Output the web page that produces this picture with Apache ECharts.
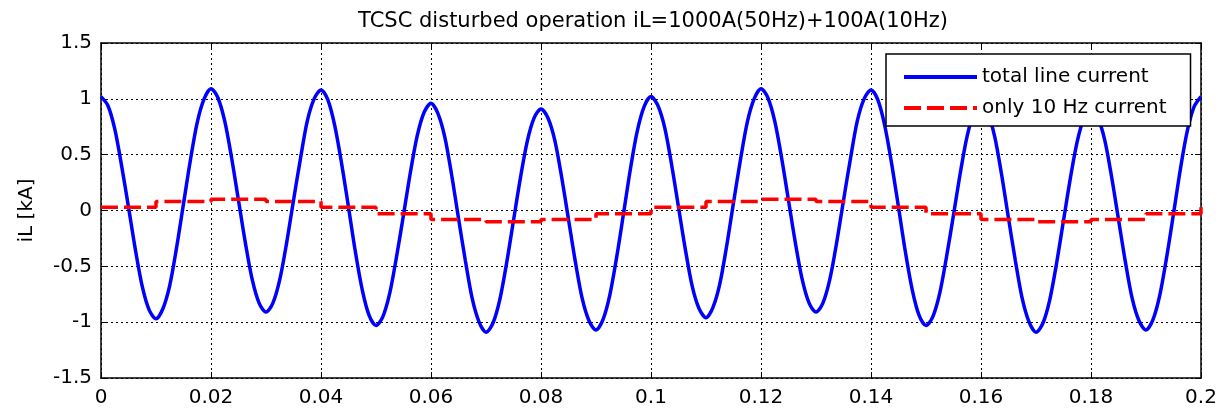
<!DOCTYPE html>
<html><head><meta charset="utf-8">
<script src="https://cdn.jsdelivr.net/npm/echarts@6/dist/echarts.min.js"></script>
<style>html,body{margin:0;padding:0;background:#fff}#c{width:1221px;height:411px}</style>
</head><body><div id="c"></div>
<script>
const titleText = 'TCSC disturbed operation iL=1000A(50Hz)+100A(10Hz)';
const yAxisName = 'iL [kA]';
const seriesNames = ['total line current', 'only 10 Hz current'];
const xRange = [0, 0.2];
const xInterval = 0.02;
const yRange = [-1.5, 1.5];
const yInterval = 0.5;

// total line current [kA], sampled every 1.25 ms from t = 0 to t = 0.2 s
const totalStep = 0.00125;
const totalCurrent = [
  1.02, 0.94, 0.73, 0.40, 0.03, -0.35, -0.68, -0.89,
  -0.97, -0.88, -0.67, -0.33, 0.06, 0.45, 0.79, 1.00,
  1.09, 1.01, 0.80, 0.47, 0.09, -0.29, -0.62, -0.83,
  -0.91, -0.83, -0.62, -0.29, 0.09, 0.46, 0.80, 1.00,
  1.08, 0.99, 0.76, 0.42, 0.03, -0.37, -0.71, -0.94,
  -1.03, -0.95, -0.74, -0.41, -0.04, 0.34, 0.67, 0.88,
  0.96, 0.87, 0.66, 0.32, -0.07, -0.45, -0.79, -1.00,
  -1.09, -1.01, -0.80, -0.47, -0.09, 0.29, 0.62, 0.83,
  0.91, 0.83, 0.63, 0.30, -0.08, -0.46, -0.79, -0.99,
  -1.07, -0.98, -0.76, -0.42, -0.03, 0.37, 0.71, 0.93,
  1.02, 0.94, 0.74, 0.41, 0.03, -0.35, -0.68, -0.88,
  -0.96, -0.87, -0.66, -0.32, 0.07, 0.45, 0.79, 1.00,
  1.09, 1.01, 0.80, 0.47, 0.09, -0.29, -0.62, -0.83,
  -0.91, -0.83, -0.62, -0.29, 0.09, 0.46, 0.80, 1.00,
  1.08, 0.99, 0.76, 0.42, 0.03, -0.37, -0.71, -0.94,
  -1.03, -0.95, -0.74, -0.41, -0.04, 0.34, 0.67, 0.88,
  0.96, 0.87, 0.66, 0.32, -0.07, -0.45, -0.79, -1.00,
  -1.09, -1.01, -0.80, -0.47, -0.09, 0.29, 0.62, 0.83,
  0.91, 0.83, 0.63, 0.30, -0.08, -0.46, -0.79, -0.99,
  -1.07, -0.98, -0.76, -0.42, -0.03, 0.37, 0.71, 0.93,
  1.02
];

// 10 Hz current [kA], held value starting at each time
const tenHzTimes = [0, 0.01, 0.02, 0.03, 0.04, 0.05, 0.06, 0.07, 0.08, 0.09, 0.1,
  0.11, 0.12, 0.13, 0.14, 0.15, 0.16, 0.17, 0.18, 0.19, 0.2];
const tenHzCurrent = [0.03, 0.08, 0.10, 0.08, 0.03, -0.03, -0.08, -0.10, -0.08, -0.03, 0.03,
  0.08, 0.10, 0.08, 0.03, -0.03, -0.08, -0.10, -0.08, -0.03, 0.03];

const FONT = 'DejaVu Sans';
const chart = echarts.init(document.getElementById('c'), null, {renderer: 'canvas'});

const gridLine = {show: true, lineStyle: {color: '#000', width: 1, type: [2, 3]}};
const axisLineStyle = {onZero: false, lineStyle: {color: '#000', width: 1.5}};
const tickStyle = {inside: true, length: 6, lineStyle: {color: '#000', width: 1}};

chart.setOption({
  animation: false,
  backgroundColor: '#fff',
  title: {
    text: titleText, left: 648, textAlign: 'center', top: 6,
    textStyle: {fontFamily: FONT, fontSize: 21, fontWeight: 'normal', color: '#000'}
  },
  grid: {left: 101, right: 20, top: 43, bottom: 33, containLabel: false},
  legend: {
    orient: 'vertical', left: 886, top: 54,
    padding: [13, 24, 8, 16], itemWidth: 73, itemHeight: 20, itemGap: 11,
    backgroundColor: '#fff', borderColor: '#000', borderWidth: 1.5, borderRadius: 0,
    itemStyle: {opacity: 0},
    lineStyle: {width: 4},
    textStyle: {fontFamily: FONT, fontSize: 20, color: '#000'},
    data: seriesNames
  },
  xAxis: [
    {type: 'value', position: 'bottom', min: xRange[0], max: xRange[1], interval: xInterval,
      axisLine: axisLineStyle, axisTick: tickStyle, splitLine: gridLine,
      axisLabel: {color: '#000', fontFamily: FONT, fontSize: 20, margin: 10}},
    {type: 'value', position: 'top', min: xRange[0], max: xRange[1], interval: xInterval,
      axisLine: axisLineStyle, axisTick: tickStyle, splitLine: {show: false},
      axisLabel: {show: false}}
  ],
  yAxis: [
    {type: 'value', position: 'left', min: yRange[0], max: yRange[1], interval: yInterval,
      name: yAxisName, nameLocation: 'middle', nameGap: 64,
      nameTextStyle: {color: '#000', fontFamily: FONT, fontSize: 20},
      axisLine: axisLineStyle, axisTick: tickStyle, splitLine: gridLine,
      axisLabel: {color: '#000', fontFamily: FONT, fontSize: 20, margin: 9}},
    {type: 'value', position: 'right', min: yRange[0], max: yRange[1], interval: yInterval,
      axisLine: axisLineStyle, axisTick: tickStyle, splitLine: {show: false},
      axisLabel: {show: false}}
  ],
  series: [
    {
      name: seriesNames[0], type: 'line', symbol: 'none', smooth: 0.3,
      data: totalCurrent.map((v, i) => [i * totalStep, v]),
      lineStyle: {color: '#0000ff', width: 3.5}, itemStyle: {color: '#0000ff'}
    },
    {
      name: seriesNames[1], type: 'line', symbol: 'none', step: 'end',
      data: tenHzTimes.map((t, i) => [t, tenHzCurrent[i]]),
      lineStyle: {color: '#ff0000', width: 3.5, type: [17, 6]}, itemStyle: {color: '#ff0000'}
    }
  ]
});
</script>
</body></html>
